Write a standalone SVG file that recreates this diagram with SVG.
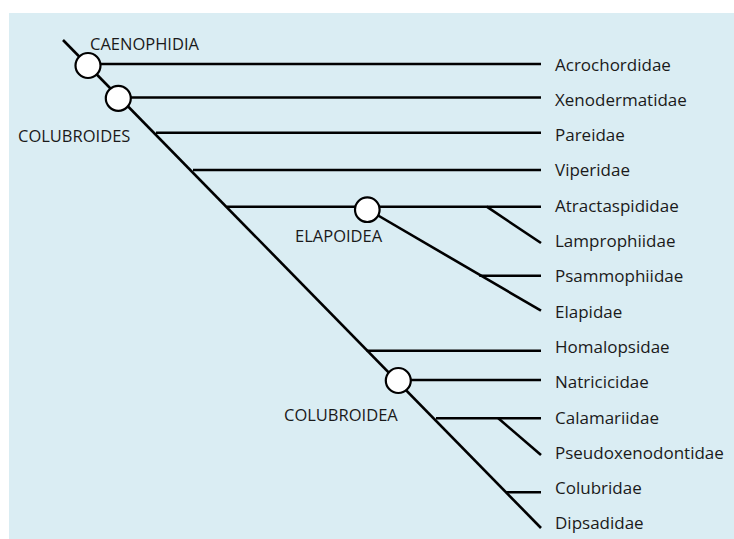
<svg xmlns="http://www.w3.org/2000/svg" width="734" height="539" viewBox="0 0 734 539">
<style>
.ln{stroke:#000;stroke-width:2.6;fill:none;stroke-linecap:butt}
.nd{fill:#fff;stroke:#000;stroke-width:2.2}
text{font-family:"Open Sans","Liberation Sans",sans-serif;font-size:17px;fill:#1a1a1a}
.cl{font-size:16.5px}
</style>
<rect x="9" y="13" width="725" height="526" fill="#daedf3"/>
<g id="connectors">
<line class="ln" x1="63" y1="40" x2="541" y2="528"/>
<line class="ln" x1="88" y1="64" x2="541" y2="64"/>
<line class="ln" x1="118" y1="97.5" x2="541" y2="97.5"/>
<line class="ln" x1="156" y1="132.7" x2="541" y2="132.7"/>
<line class="ln" x1="193" y1="170" x2="541" y2="170"/>
<line class="ln" x1="227" y1="206.7" x2="541" y2="206.7"/>
<line class="ln" x1="486.7" y1="206.7" x2="541" y2="243"/>
<line class="ln" x1="367" y1="209" x2="541" y2="310.7"/>
<line class="ln" x1="479.3" y1="275.7" x2="541" y2="275.7"/>
<line class="ln" x1="366.7" y1="350.7" x2="541" y2="350.7"/>
<line class="ln" x1="398" y1="380" x2="541" y2="380"/>
<line class="ln" x1="436" y1="418.3" x2="541" y2="418.3"/>
<line class="ln" x1="498.3" y1="418.3" x2="541" y2="455"/>
<line class="ln" x1="506" y1="492.3" x2="541" y2="492.3"/>
</g>
<g id="caenophidia"><circle class="nd" cx="88" cy="65.5" r="12.5"/><text class="cl" x="90" y="49.5">CAENOPHIDIA</text></g>
<g id="colubroides"><circle class="nd" cx="118.3" cy="98.3" r="12.5"/><text class="cl" x="18" y="142">COLUBROIDES</text></g>
<g id="elapoidea"><circle class="nd" cx="367.3" cy="209.7" r="12.3"/><text class="cl" x="295" y="242">ELAPOIDEA</text></g>
<g id="colubroidea"><circle class="nd" cx="398.3" cy="380.5" r="12.5"/><text class="cl" x="284" y="421">COLUBROIDEA</text></g>
<g id="acrochordidae"><text x="555" y="70.5">Acrochordidae</text></g>
<g id="xenodermatidae"><text x="555" y="105.8">Xenodermatidae</text></g>
<g id="pareidae"><text x="555" y="141.1">Pareidae</text></g>
<g id="viperidae"><text x="555" y="176.4">Viperidae</text></g>
<g id="atractaspididae"><text x="555" y="211.7">Atractaspididae</text></g>
<g id="lamprophiidae"><text x="555" y="247">Lamprophiidae</text></g>
<g id="psammophiidae"><text x="555" y="282.3">Psammophiidae</text></g>
<g id="elapidae"><text x="555" y="317.6">Elapidae</text></g>
<g id="homalopsidae"><text x="555" y="352.9">Homalopsidae</text></g>
<g id="natricicidae"><text x="555" y="388.2">Natricicidae</text></g>
<g id="calamariidae"><text x="555" y="423.5">Calamariidae</text></g>
<g id="pseudoxenodontidae"><text x="555" y="458.8">Pseudoxenodontidae</text></g>
<g id="colubridae"><text x="555" y="494.1">Colubridae</text></g>
<g id="dipsadidae"><text x="555" y="529.4">Dipsadidae</text></g>
</svg>
